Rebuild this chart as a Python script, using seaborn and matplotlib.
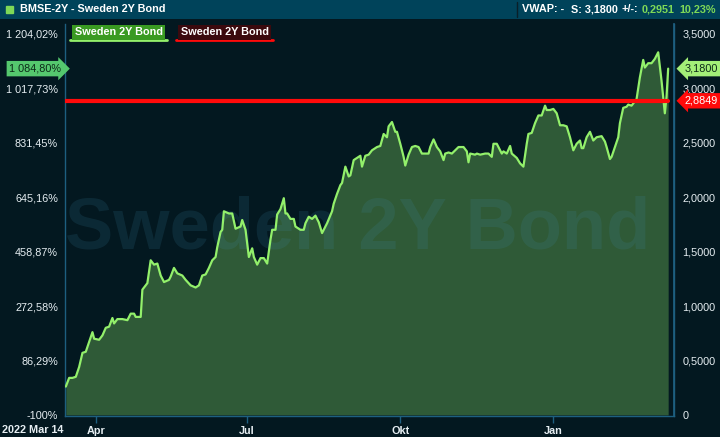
import pandas as pd
import matplotlib
matplotlib.use("Agg")
import matplotlib.pyplot as plt
from matplotlib.lines import Line2D
import seaborn as sns

# data: days since 2022-03-14 and price
start = pd.Timestamp("2022-03-14")
days = [0, 2, 4, 6, 8, 10, 12, 14, 16, 17, 20, 22, 24, 26, 28, 29, 31, 34, 37, 39,
        41, 42, 45, 46, 47, 49, 51, 53, 55, 57, 59, 62, 63, 65, 67, 70, 72, 75, 78, 80,
        82, 84, 86, 88, 90, 91, 93, 94, 95, 98, 100, 102, 105, 106, 108, 110, 112, 113, 115, 117,
        119, 121, 123, 124, 126, 127, 129, 131, 132, 133, 135, 137, 138, 141, 143, 144, 146, 148, 150, 152,
        154, 155, 157, 160, 161, 163, 165, 166, 168, 170, 171, 173, 175, 177, 178, 180, 182, 184, 186, 187,
        189, 191, 193, 194, 196, 198, 199, 201, 203, 204, 206, 208, 210, 212, 214, 216, 218, 219, 221, 223,
        225, 227, 228, 230, 232, 234, 236, 237, 239, 241, 242, 243, 246, 247, 249, 252, 254, 256, 257, 259,
        260, 262, 263, 265, 267, 268, 271, 273, 275, 277, 278, 280, 282, 284, 286, 288, 289, 291, 293, 295,
        297, 299, 301, 303, 305, 307, 309, 310, 311, 313, 315, 317, 319, 322, 324, 325, 327, 328, 330, 332,
        333, 335, 337, 338, 340, 342, 343, 345, 347, 348, 350, 352, 354, 356, 357, 358, 360, 361, 362]
price = [0.26, 0.34, 0.34, 0.35, 0.44, 0.57, 0.58, 0.67, 0.76, 0.70, 0.69, 0.73, 0.80, 0.81, 0.89, 0.84, 0.88, 0.88, 0.87, 0.93,
         0.93, 0.90, 0.90, 1.15, 1.17, 1.21, 1.42, 1.38, 1.39, 1.28, 1.22, 1.24, 1.27, 1.35, 1.30, 1.28, 1.24, 1.19, 1.17, 1.19,
         1.28, 1.29, 1.35, 1.42, 1.45, 1.54, 1.68, 1.70, 1.87, 1.85, 1.85, 1.71, 1.73, 1.79, 1.70, 1.45, 1.53, 1.45, 1.38, 1.44,
         1.44, 1.39, 1.61, 1.70, 1.70, 1.84, 1.89, 1.99, 1.85, 1.85, 1.80, 1.80, 1.73, 1.70, 1.70, 1.76, 1.82, 1.80, 1.83, 1.77,
         1.67, 1.70, 1.76, 1.87, 1.94, 2.03, 2.11, 2.13, 2.28, 2.19, 2.20, 2.34, 2.36, 2.38, 2.28, 2.38, 2.39, 2.43, 2.45, 2.46,
         2.47, 2.58, 2.55, 2.65, 2.69, 2.60, 2.60, 2.49, 2.37, 2.29, 2.39, 2.46, 2.47, 2.46, 2.40, 2.40, 2.40, 2.46, 2.53, 2.46,
         2.42, 2.34, 2.40, 2.41, 2.40, 2.43, 2.46, 2.46, 2.46, 2.42, 2.32, 2.40, 2.39, 2.40, 2.39, 2.40, 2.40, 2.37, 2.49, 2.49,
         2.46, 2.40, 2.42, 2.40, 2.47, 2.40, 2.36, 2.31, 2.28, 2.49, 2.58, 2.59, 2.68, 2.75, 2.75, 2.84, 2.80, 2.80, 2.81, 2.77,
         2.66, 2.66, 2.65, 2.55, 2.43, 2.49, 2.52, 2.45, 2.45, 2.55, 2.60, 2.52, 2.55, 2.56, 2.51, 2.46, 2.35, 2.37, 2.46, 2.55,
         2.68, 2.82, 2.83, 2.85, 2.84, 2.88, 2.90, 3.10, 3.26, 3.19, 3.23, 3.23, 3.27, 3.33, 3.20, 3.07, 2.77, 2.92, 3.18]

ref_level = 2.8849
last_price = 3.18
right_ticks = [0, 0.5, 1.0, 1.5, 2.0, 2.5, 3.0, 3.5]
right_labels = ["0", "0,5000", "1,0000", "1,5000", "2,0000", "2,5000", "3,0000", "3,5000"]
left_labels = ["-100%", "86,29%", "272,58%", "458,87%", "645,16%", "831,45%", "1 017,73%", "1 204,02%"]
month_ticks = ["2022-04-01", "2022-07-01", "2022-10-01", "2023-01-01"]
month_labels = ["Apr", "Jul", "Okt", "Jan"]

BG = "#031820"
HEADER = "#00435a"
AXIS = "#1d5f80"
LINE = "#93f06b"
FILL = "#2f5a37"
TXT = "#e6eef2"
FS = 7.8

sns.set_theme(style="dark")
plt.rcParams["font.family"] = ["Liberation Sans", "DejaVu Sans"]

df = pd.DataFrame({"date": start + pd.to_timedelta(days, unit="D"), "price": price})

fig = plt.figure(figsize=(7.2, 4.37), dpi=100, facecolor=BG)
ax = fig.add_axes([65 / 720, 21 / 437, 609 / 720, 392 / 437])
ax.set_facecolor(BG)

ax.fill_between(df["date"], 0, df["price"], color=FILL, lw=0, zorder=2)
sns.lineplot(data=df, x="date", y="price", color=LINE, lw=1.6, ax=ax, zorder=3)
ax.axhline(ref_level, xmin=0, xmax=(362 + 0.5) / 366, color="#ff0a0a", lw=3, zorder=4)

# watermark
ax.text(0.48, 0.475, "Sweden 2Y Bond", transform=ax.transAxes, ha="center", va="center",
        fontsize=52, fontweight="bold", color="#3f8fb0", alpha=0.15, zorder=2.5)

ax.set_xlim(start - pd.Timedelta(days=0.5), start + pd.Timedelta(days=365.5))
ax.set_ylim(-0.01, 3.59)
ax.set_xlabel("")
ax.set_ylabel("")

ax.spines["top"].set_visible(False)
for side in ["left", "right", "bottom"]:
    ax.spines[side].set_color(AXIS)
    ax.spines[side].set_linewidth(1)

ax.set_xticks(pd.to_datetime(month_ticks))
ax.set_xticklabels(month_labels, fontsize=FS, fontweight="bold", color=TXT)
ax.tick_params(axis="x", length=5, color=AXIS, width=1, pad=2, direction="out", bottom=True)
ax.set_yticks(right_ticks)
ax.set_yticklabels(left_labels, fontsize=FS, color=TXT)
ax.tick_params(axis="y", length=0, pad=5, left=False)
ax.grid(False)

ax2 = ax.twinx()
ax2.set_ylim(ax.get_ylim())
ax2.set_yticks(right_ticks)
ax2.set_yticklabels(right_labels, fontsize=FS, color=TXT)
ax2.tick_params(axis="y", length=0, pad=6)
for side in ["top", "left", "bottom"]:
    ax2.spines[side].set_visible(False)
ax2.spines["right"].set_color(AXIS)
ax2.grid(False)

fig.text(2 / 720, 7 / 437, "2022 Mar 14", fontsize=FS, fontweight="bold", color=TXT, va="center")

# value badges
ax.annotate("1 084,80%", xy=(-0.006, last_price), xycoords=("axes fraction", "data"),
            ha="right", va="center", fontsize=FS, color="#0c2a18",
            bbox=dict(boxstyle="rarrow,pad=0.25", fc="#55c86e", ec="none"))
ax2.annotate("3,1800", xy=(1.018, last_price), xycoords=("axes fraction", "data"),
             ha="left", va="center", fontsize=FS, color="#0c2a18",
             bbox=dict(boxstyle="larrow,pad=0.25", fc="#a3ef78", ec="none"))
ax2.annotate("2,8849", xy=(1.018, ref_level), xycoords=("axes fraction", "data"),
             ha="left", va="center", fontsize=FS, color="white",
             bbox=dict(boxstyle="larrow,pad=0.25", fc="#ff0a0a", ec="none"))

# legend chips
ax.text(0.016, 0.979, "Sweden 2Y Bond", transform=ax.transAxes, ha="left", va="center",
        fontsize=FS, fontweight="bold", color="white",
        bbox=dict(boxstyle="square,pad=0.22", fc="#3a9a22", ec="none"))
ax.add_line(Line2D([0.008, 0.167], [0.959, 0.959], transform=ax.transAxes, color=LINE, lw=2))
ax.text(0.190, 0.979, "Sweden 2Y Bond", transform=ax.transAxes, ha="left", va="center",
        fontsize=FS, fontweight="bold", color="white",
        bbox=dict(boxstyle="square,pad=0.22", fc="#3b0a0e", ec="none"))
ax.add_line(Line2D([0.182, 0.341], [0.959, 0.959], transform=ax.transAxes, color="#ff0a0a", lw=2))

# header bar
hdr = fig.add_axes([0, 1 - 19 / 437, 1, 19 / 437])
hdr.set_xlim(0, 720)
hdr.set_ylim(0, 19)
hdr.axis("off")
hdr.add_patch(plt.Rectangle((0, 0), 720, 19, color=HEADER))
hdr.add_patch(plt.Rectangle((6, 6), 7, 7, color="#7ed957"))
hdr.text(20, 9.5, "BMSE-2Y - Sweden 2Y Bond", fontsize=FS, fontweight="bold", color="white", va="center")
hdr.plot([517, 517], [2, 17], color="#0a1f28", lw=1)
hdr.text(522, 9.5, "VWAP: -", fontsize=FS, fontweight="bold", color="white", va="center")
hdr.text(571, 9.5, "S: 3,1800", fontsize=FS, fontweight="bold", color="white", va="center")
hdr.text(622, 9.5, "+/-:", fontsize=FS, fontweight="bold", color="white", va="center")
hdr.text(642, 9.5, "0,2951", fontsize=FS, fontweight="bold", color="#7ed957", va="center")
hdr.text(716, 9.5, "10,23%", fontsize=FS, fontweight="bold", color="#7ed957", va="center", ha="right")

fig.savefig("out.png", dpi=100, facecolor=BG)
